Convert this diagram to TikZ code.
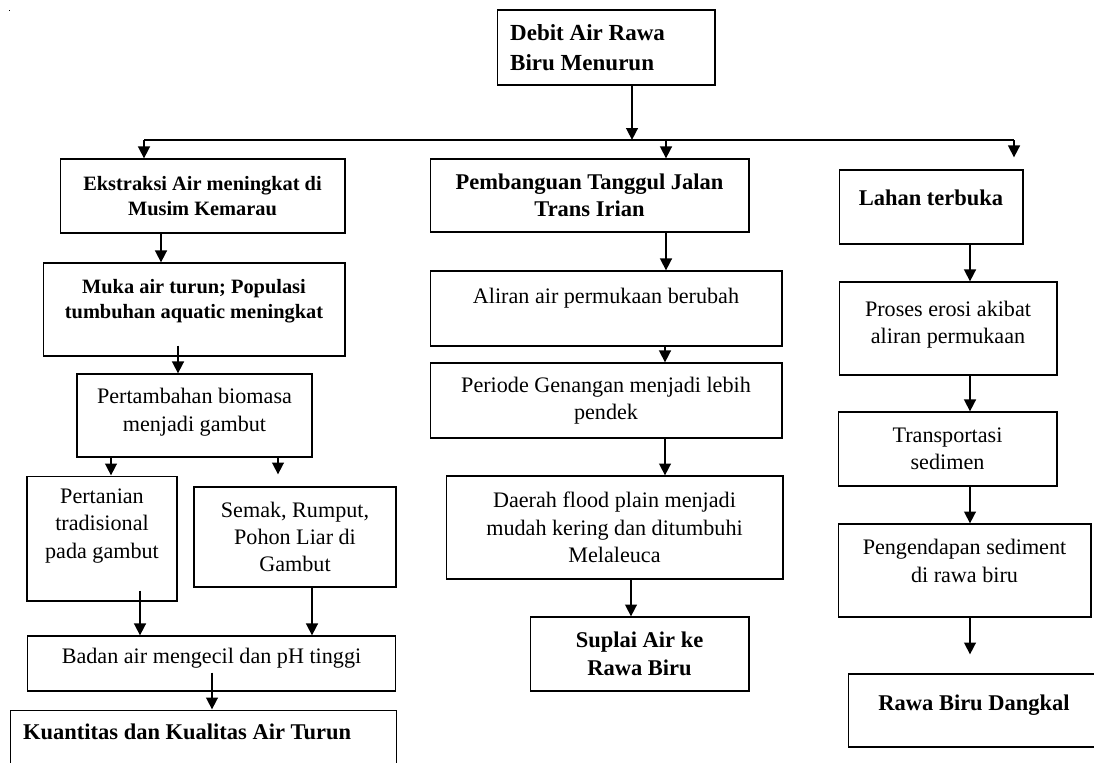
\documentclass[tikz,border=0pt]{standalone}
\usepackage{fontspec}
\setmainfont{Liberation Serif}
\usetikzlibrary{arrows.meta}

\tikzset{
  box/.style={draw, line width=0.6pt, inner sep=0pt, align=center},
  txt/.style={align=center, font=\fontsize{12.6}{15.6}\selectfont},
  hd/.style={align=center, font=\fontsize{12.8}{15.6}\selectfont\bfseries},
  hdbig/.style={align=left, font=\fontsize{13.1}{17}\selectfont\bfseries},
  hdsmall/.style={align=center, font=\fontsize{11.6}{14.2}\selectfont\bfseries},
  arr/.style={line width=1.5pt, -{Triangle[length=0.24cm, width=0.23cm]}},
  bus/.style={line width=0.6pt}
}

\begin{document}
\begin{tikzpicture}[x=0.02cm, y=-0.02cm]
  \useasboundingbox (0,0) rectangle (1094,762);
  \fill (8.5,9.5) rectangle (10,11);

  % top
  \node[box, minimum width=4.36cm, minimum height=1.5cm,
    label={[hdbig, anchor=west, xshift=0.15cm]west:Debit Air Rawa\\Biru Menurun}] (debit) at (606,47.5) {};
  \coordinate (busL) at (144,140);
  \coordinate (busM) at (632,140);
  \coordinate (busT) at (666,140);
  \coordinate (busR) at (1014,140);
  \draw[bus] (busL) -- (busR);

  % left column
  \node[box, hdsmall, minimum width=5.7cm, minimum height=1.48cm] (ekstraksi) at (202.5,196) {Ekstraksi Air meningkat di\\Musim Kemarau};
  \node[box, minimum width=6.04cm, minimum height=1.86cm,
    label={[hdsmall, anchor=center, yshift=0.17cm]center:Muka air turun; Populasi\\tumbuhan aquatic meningkat}] (muka) at (194,309.5) {};
  \node[box, minimum width=4.7cm, minimum height=1.66cm,
    label={[txt, anchor=center, yshift=0.07cm]center:Pertambahan biomasa\\menjadi gambut}] (biomasa) at (194.5,415.5) {};
  \node[box, minimum width=3cm, minimum height=2.5cm,
    label={[txt, anchor=center, yshift=0.25cm]center:Pertanian\\tradisional\\pada gambut}] (pertanian) at (102,538.5) {};
  \node[box, txt, minimum width=4.04cm, minimum height=2cm] (semak) at (295,537) {Semak, Rumput,\\Pohon Liar di\\Gambut};
  \node[box, minimum width=7.38cm, minimum height=1.1cm,
    label={[txt, anchor=center, yshift=0.11cm]center:Badan air mengecil dan pH tinggi}] (badan) at (211.5,663.5) {};
  \node[box, minimum width=7.74cm, minimum height=1.6cm,
    label={[hd, anchor=west, xshift=0.15cm, yshift=-0.44cm]north west:Kuantitas dan Kualitas Air Turun}] (kuantitas) at (203.5,750) {};

  % middle column
  \node[box, hd, minimum width=6.38cm, minimum height=1.46cm] (tanggul) at (589.5,195.5) {Pembanguan Tanggul Jalan\\Trans Irian};
  \node[box, minimum width=7.04cm, minimum height=1.5cm,
    label={[txt, anchor=center, yshift=0.21cm]center:Aliran air permukaan berubah}] (aliran) at (606,308.5) {};
  \node[box, txt, minimum width=7.04cm, minimum height=1.5cm] (periode) at (606,400.5) {Periode Genangan menjadi lebih\\pendek};
  \node[box, txt, minimum width=6.74cm, minimum height=2.06cm] (daerah) at (614.5,527.5) {Daerah flood plain menjadi\\mudah kering dan ditumbuhi\\Melaleuca};
  \node[box, hd, minimum width=4.38cm, minimum height=1.48cm] (suplai) at (639.5,654) {Suplai Air ke\\Rawa Biru};

  % right column
  \node[box, minimum width=3.68cm, minimum height=1.48cm,
    label={[hd, anchor=center, yshift=0.18cm]center:Lahan terbuka}] (lahan) at (931,207) {};
  \node[box, minimum width=4.36cm, minimum height=1.86cm,
    label={[txt, anchor=center, yshift=0.08cm]center:Proses erosi akibat\\aliran permukaan}] (proses) at (948,328.5) {};
  \node[box, txt, minimum width=4.38cm, minimum height=1.48cm] (transport) at (947.5,449) {Transportasi\\sedimen};
  \node[box, minimum width=5.06cm, minimum height=1.86cm,
    label={[txt, anchor=center, yshift=0.19cm]center:Pengendapan sediment\\di rawa biru}] (pengendapan) at (964.5,570.5) {};
  \node[box, minimum width=5.44cm, minimum height=1.46cm,
    label={[hd, anchor=center, xshift=-0.2cm, yshift=0.11cm]center:Rawa Biru Dangkal}] (dangkal) at (984,710.5) {};

  % arrows
  \draw[arr] (debit.south -| busM) -- (busM);
  \draw[arr] (busL) -- (busL |- ekstraksi.north);
  \draw[arr] (busT) -- (busT |- tanggul.north);
  \draw[arr, shorten >=0.24cm] (busR) -- (busR |- lahan.north);

  \draw[arr] (ekstraksi.south -| 161,0) -- (muka.north -| 161,0);
  \draw[arr, shorten <=-0.22cm] (muka.south -| 178,0) -- (biomasa.north -| 178,0);
  \draw[arr] (biomasa.south -| 111,0) -- (pertanian.north -| 111,0);
  \draw[arr, shorten >=0.24cm] (biomasa.south -| 278,0) -- (semak.north -| 278,0);
  \draw[arr, shorten <=-0.22cm] (pertanian.south -| 140,0) -- (badan.north -| 140,0);
  \draw[arr] (semak.south -| 312,0) -- (badan.north -| 312,0);
  \draw[arr, shorten <=-0.38cm] (badan.south -| 212,0) -- (kuantitas.north -| 212,0);

  \draw[arr] (tanggul.south -| 666,0) -- (aliran.north -| 666,0);
  \draw[arr] (aliran.south -| 665,0) -- (periode.north -| 665,0);
  \draw[arr] (periode.south -| 665,0) -- (daerah.north -| 665,0);
  \draw[arr] (daerah.south -| 631,0) -- (suplai.north -| 631,0);

  \draw[arr] (lahan.south -| 970,0) -- (proses.north -| 970,0);
  \draw[arr] (proses.south -| 970,0) -- (transport.north -| 970,0);
  \draw[arr] (transport.south -| 970,0) -- (pengendapan.north -| 970,0);
  \draw[arr, shorten >=0.38cm] (pengendapan.south -| 970,0) -- (dangkal.north -| 970,0);
\end{tikzpicture}
\end{document}
